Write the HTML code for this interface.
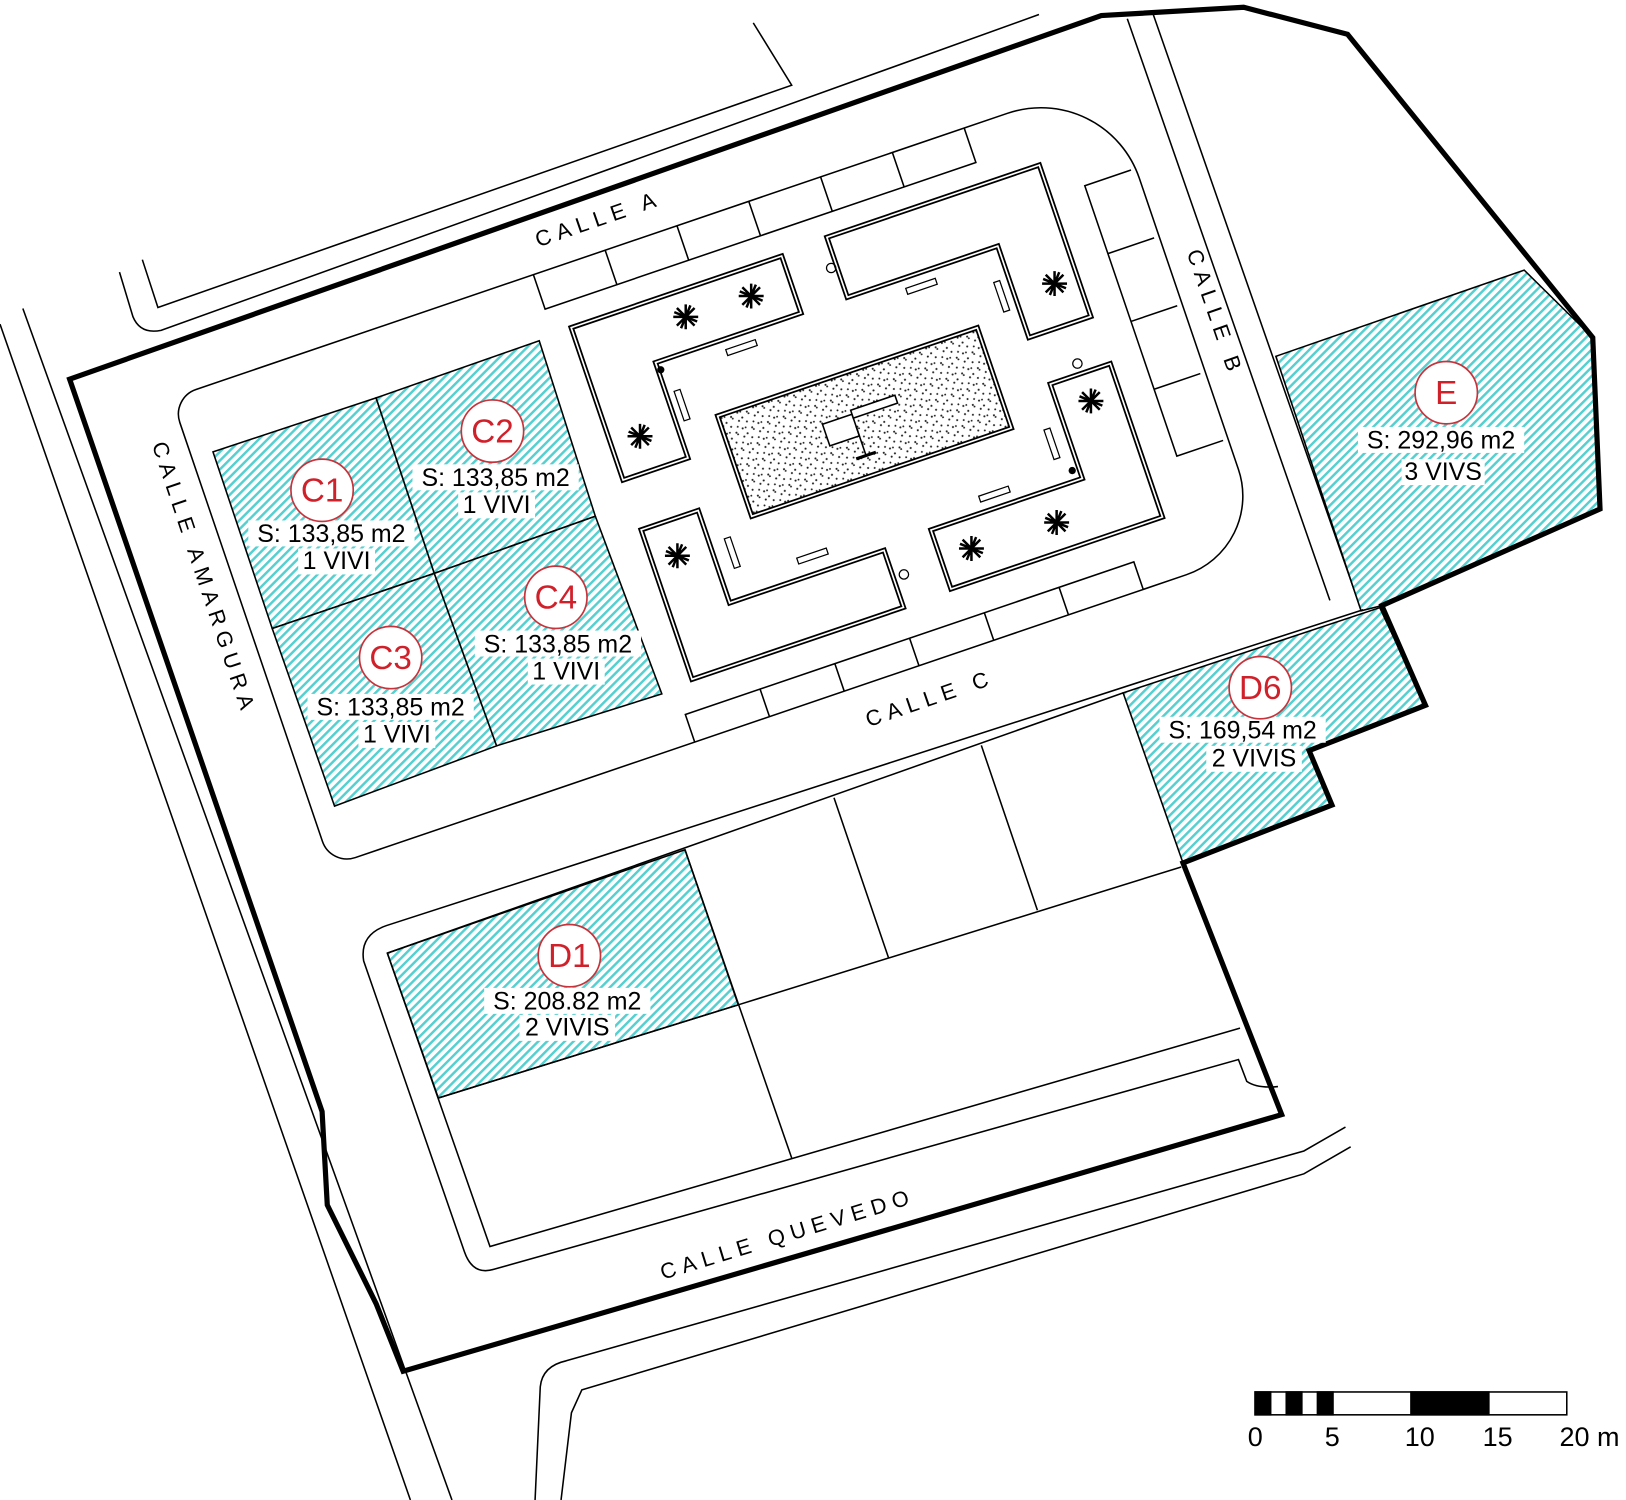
<!DOCTYPE html>
<html><head><meta charset="utf-8"><style>
html,body{margin:0;padding:0;background:#fff;width:1626px;height:1500px;overflow:hidden}
svg{display:block}
text{font-family:"Liberation Sans",Arial,sans-serif}
.t{fill:#000;stroke:none}
.st{font-size:21px;letter-spacing:6px}
.lab{font-size:24px;text-anchor:middle}
.red{font-size:32px;fill:#d0202a;text-anchor:middle}
</style></head><body>
<svg width="1626" height="1500" viewBox="0 0 1565 1444" preserveAspectRatio="none" xmlns="http://www.w3.org/2000/svg">
<defs>
<pattern id="h" patternUnits="userSpaceOnUse" width="6" height="6" patternTransform="rotate(-45)">
<rect width="6" height="6" fill="#fff"/><rect width="6" height="2.4" fill="#55cfcf"/>
</pattern>
<pattern id="dots" patternUnits="userSpaceOnUse" width="16" height="16">
<rect width="16" height="16" fill="#fff"/>
<circle cx="2" cy="3" r="1" fill="#222"/><circle cx="9" cy="1" r="0.9" fill="#222"/><circle cx="14" cy="5" r="1" fill="#222"/>
<circle cx="5" cy="8" r="1" fill="#222"/><circle cx="11" cy="10" r="0.9" fill="#222"/>
<circle cx="2" cy="13" r="0.9" fill="#222"/><circle cx="15" cy="13" r="1" fill="#222"/><circle cx="8" cy="15" r="1" fill="#222"/>
</pattern>
<g id="tree" stroke="#000" stroke-width="2.4"><path d="M-12,0H12M0,-12V12M-8.5,-8.5L8.5,8.5M-8.5,8.5L8.5,-8.5M-11,-4.5L11,4.5M-4.5,11L4.5,-11"/></g>
</defs>
<g fill="none" stroke="#000" stroke-width="1.5">
<path d="M725,22 L762,82 L152,296 L137,250"/>
<path d="M115,262 L128,305 Q135,322 155,318 L1000,14"/>
<path d="M0,312 L395,1444"/>
<path d="M22,297 L435,1444"/>
<path d="M1085,18 L1280,578"/>
<path d="M1110,14 L1310,587"/>
<path d="M515,1444 L520,1335 Q522,1315 545,1310 L1255,1108 L1295,1085"/>
<path d="M540,1444 L550,1360 L560,1338 L1255,1130 L1300,1104"/>
</g>
<g stroke="#000" stroke-width="1.5" fill="url(#h)">
<polygon points="205,435 362,383 418,552 262,605"/>
<polygon points="362,383 519,328 573,497 418,552"/>
<polygon points="262,605 418,552 478,718 322,776"/>
<polygon points="418,552 573,497 637,668 478,718"/>
<polygon points="1228,343 1467,260 1533,325 1540,490 1330,583 1310,588"/>
<polygon points="1081,667 1328,585 1372,679 1260,722.6 1282,775 1138.6,830.7"/>
<polygon points="372.8,917.5 659.3,818 710.6,967.3 421.9,1057"/>
</g>
<g transform="translate(165,383) rotate(-18.8)" fill="none" stroke="#000" stroke-width="1.5">
<path d="M25,0 H850 A100,100 0 0 1 950,100 V396 A80,80 0 0 1 870,476 H25 A25,25 0 0 1 0,451 V25 A25,25 0 0 1 25,0 Z"/>
<path d="M368,0 V35 H806 V0 M441,0 V35 M514,0 V35 M587,0 V35 M660,0 V35 M733,0 V35"/>
<path d="M370,476 V448 H826 V476 M446,448 V476 M522,448 V476 M598,448 V476 M674,448 V476 M750,448 V476"/>
<path d="M945,90 H898 V365 H945 M898,159 H945 M898,228 H945 M898,297 H945"/>
<g stroke-width="5"><polygon points="386,60 600,60 600,118 452,118 452,215 386,215"/><polygon points="647,57 863,57 863,211 800,211 800,118 647,118"/><polygon points="387,266 445,266 445,360 602,360 602,418 387,418"/><polygon points="651,356 805,356 805,260 866,260 866,416 651,416"/></g>
<g stroke="#fff" stroke-width="1.6"><polygon points="386,60 600,60 600,118 452,118 452,215 386,215"/><polygon points="647,57 863,57 863,211 800,211 800,118 647,118"/><polygon points="387,266 445,266 445,360 602,360 602,418 387,418"/><polygon points="651,356 805,356 805,260 866,260 866,416 651,416"/></g>
<rect x="492" y="186" width="264" height="102" fill="url(#dots)" stroke-width="5"/>
<rect x="492" y="186" width="264" height="102" stroke="#fff" stroke-width="1.6"/>
<g stroke-width="1.5" fill="#fff"><rect x="585" y="226" width="30" height="22"/><rect x="615" y="222" width="45" height="8"/><line x1="615" y1="238" x2="615" y2="268"/><line x1="605" y1="268" x2="625" y2="268" stroke-width="3"/></g>
<g stroke-width="1.2"><rect x="520" y="128" width="30" height="6"/><rect x="703" y="128" width="30" height="6"/><rect x="460" y="150" width="6" height="30"/><rect x="460" y="300" width="6" height="30"/><rect x="520" y="340" width="30" height="6"/><rect x="705" y="340" width="30" height="6"/><rect x="785" y="150" width="6" height="30"/><rect x="785" y="300" width="6" height="30"/></g>
</g>
<g fill="none" stroke="#000" stroke-width="1.2">
<circle cx="800" cy="258" r="4.5"/><circle cx="1037" cy="350" r="4.5"/><circle cx="870" cy="553" r="4.5"/>
</g>
<g fill="#000"><circle cx="636" cy="356" r="3.5"/><circle cx="1032" cy="453" r="3.5"/></g>
<use href="#tree" x="660" y="305"/><use href="#tree" x="723" y="285"/><use href="#tree" x="616" y="420"/>
<use href="#tree" x="1015" y="273"/><use href="#tree" x="1050" y="386"/><use href="#tree" x="652" y="535"/>
<use href="#tree" x="935" y="528"/><use href="#tree" x="1017" y="503"/>
<g fill="none" stroke="#000" stroke-width="1.5">
<path d="M1312,587 L372,891 Q346,900 350,925 L447,1205 Q455,1228 475,1222 L1192,1020 L1200,1041 Q1210,1048 1230,1046"/>
<path d="M372.8,917.5 L1081,667"/>
<path d="M372.8,917.5 L471.6,1200 L1193.5,989.7"/>
<path d="M659.3,818 L762,1114.8"/>
<path d="M421.9,1057 L710.6,967.3 L1136.9,834.6"/>
<path d="M802.7,768 L855.1,921.8 M944.5,717.6 L998.5,876.3"/>
</g>
<polygon points="67,365 1060,15 1197,7 1297,33 1533,325 1540,490 1330,583 1372,679 1260,722.6 1282,775 1138.6,830.7 1233.6,1073 388,1320 362,1255 315,1160 310,1070" fill="none" stroke="#000" stroke-width="5" stroke-linejoin="miter"/>
<text class="t st" transform="translate(518,238) rotate(-19)">CALLE A</text>
<text class="t st" transform="translate(1142,243) rotate(71)">CALLE B</text>
<text class="t st" transform="translate(146,428) rotate(71.5)">CALLE AMARGURA</text>
<text class="t st" transform="translate(836,700) rotate(-19)">CALLE C</text>
<text class="t st" transform="translate(638,1232) rotate(-17)">CALLE QUEVEDO</text>
<g fill="#fff">
<rect x="239" y="501" width="160" height="25"/><rect x="287" y="528" width="74" height="25"/>
<rect x="397" y="447" width="160" height="25"/><rect x="441" y="474" width="74" height="25"/>
<rect x="296" y="668" width="160" height="25"/><rect x="345" y="695" width="74" height="25"/>
<rect x="457" y="607" width="160" height="25"/><rect x="508" y="634" width="74" height="25"/>
<rect x="1307" y="411" width="160" height="25"/><rect x="1349" y="442" width="80" height="25"/>
<rect x="1116" y="690" width="160" height="25"/><rect x="1161" y="718" width="92" height="25"/>
<rect x="466" y="951" width="160" height="25"/><rect x="500" y="977" width="92" height="25"/>
</g>
<g fill="#fff" stroke="#c8323a" stroke-width="1.6">
<circle cx="310" cy="472" r="30"/><circle cx="474" cy="415" r="30"/><circle cx="376" cy="633" r="30"/>
<circle cx="535" cy="575" r="30"/><circle cx="1392" cy="378" r="30"/><circle cx="1213" cy="662" r="30"/>
<circle cx="548" cy="920" r="30"/>
</g>
<g class="red">
<text x="310" y="483">C1</text><text x="474" y="426">C2</text><text x="376" y="644">C3</text>
<text x="535" y="586">C4</text><text x="1392" y="389">E</text><text x="1213" y="673">D6</text><text x="548" y="931">D1</text>
</g>
<g class="lab">
<text x="319" y="522">S: 133,85 m2</text><text x="324" y="548">1 VIVI</text>
<text x="477" y="468">S: 133,85 m2</text><text x="478" y="494">1 VIVI</text>
<text x="376" y="689">S: 133,85 m2</text><text x="382" y="715">1 VIVI</text>
<text x="537" y="628">S: 133,85 m2</text><text x="545" y="654">1 VIVI</text>
<text x="1387" y="432">S: 292,96 m2</text><text x="1389" y="462">3 VIVS</text>
<text x="1196" y="711">S: 169,54 m2</text><text x="1207" y="738">2 VIVIS</text>
<text x="546" y="972">S: 208.82 m2</text><text x="546" y="997">2 VIVIS</text>
</g>
<g stroke="#000" stroke-width="1.5">
<rect x="1208" y="1340" width="300" height="22" fill="#fff"/>
<rect x="1208" y="1340" width="15" height="22" fill="#000"/>
<rect x="1238" y="1340" width="15" height="22" fill="#000"/>
<rect x="1268" y="1340" width="15" height="22" fill="#000"/>
<rect x="1358" y="1340" width="75" height="22" fill="#000"/>
</g>
<g font-size="26" fill="#000">
<text x="1201" y="1392">0</text><text x="1275" y="1392">5</text><text x="1352" y="1392">10</text>
<text x="1427" y="1392">15</text><text x="1501" y="1392">20 m</text>
</g>
</svg>
</body></html>
